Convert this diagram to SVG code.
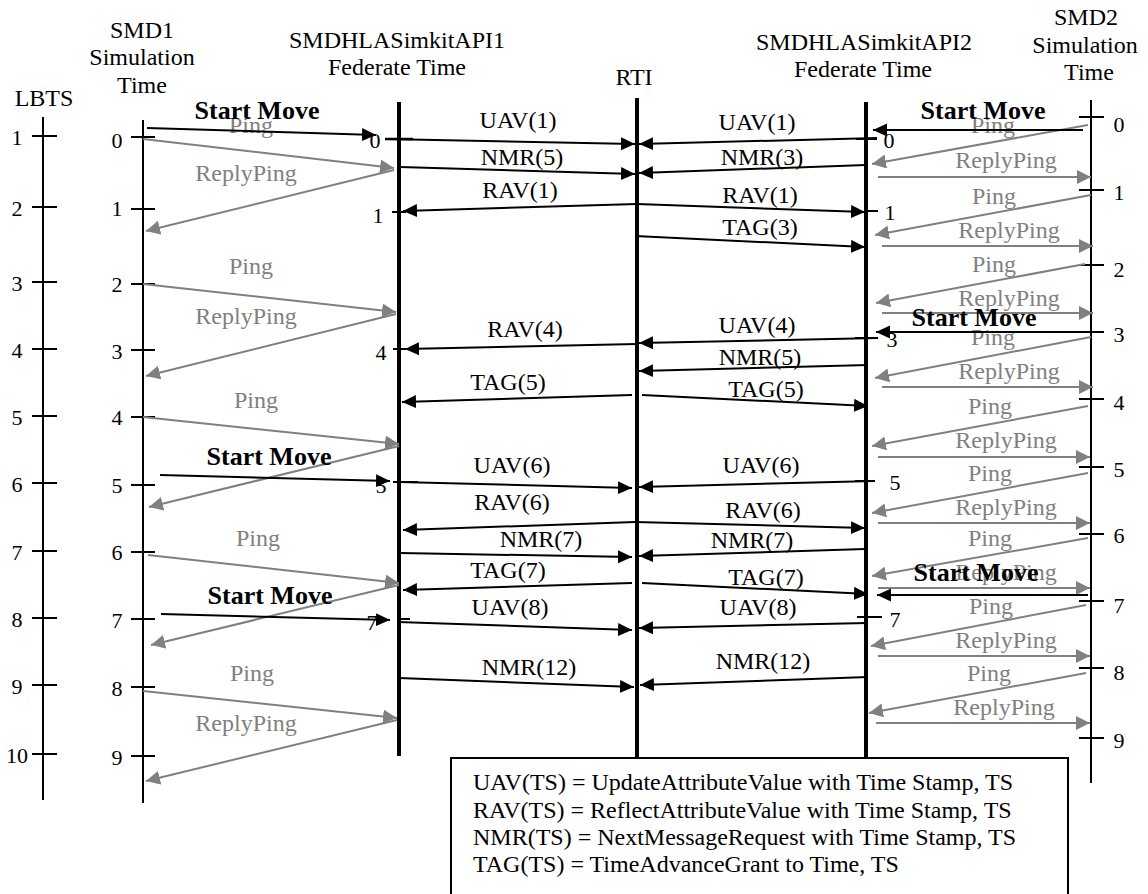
<svg xmlns="http://www.w3.org/2000/svg" width="1148" height="894" viewBox="0 0 1148 894">
<defs>
<marker id="ab" markerUnits="userSpaceOnUse" markerWidth="15" markerHeight="14" refX="14" refY="6.5" orient="auto"><path d="M0,0 L14,6.5 L0,13 z" fill="#000"/></marker>
<marker id="ag" markerUnits="userSpaceOnUse" markerWidth="15" markerHeight="15" refX="14" refY="7" orient="auto"><path d="M0,0 L14,7 L0,14 z" fill="#808080"/></marker>
<style>
.ax{stroke:#000;stroke-width:2;fill:none}
.axb{stroke:#000;stroke-width:4;fill:none}
.tk{stroke:#000;stroke-width:2}
.m{stroke:#000;stroke-width:2;fill:none;marker-end:url(#ab)}
.gm{stroke:#808080;stroke-width:2;fill:none;marker-end:url(#ag)}
text{font-family:"Liberation Serif","Times New Roman",serif;font-size:24px;fill:#000;text-anchor:middle}
.g{fill:#808080}
.b{font-weight:bold;font-size:26px}
.n{font-size:22px}
.l{text-anchor:start}
</style>
</defs>
<rect width="1148" height="894" fill="#fff"/>

<g id="lbts">
<text x="44" y="106">LBTS</text>
<line class="ax" x1="43" y1="117" x2="43" y2="800"/>
<g class="tk">
<line x1="32" y1="136" x2="57" y2="136"/><line x1="32" y1="207" x2="57" y2="207"/><line x1="32" y1="282" x2="57" y2="282"/><line x1="32" y1="349" x2="57" y2="349"/><line x1="32" y1="416" x2="57" y2="416"/><line x1="32" y1="483" x2="57" y2="483"/><line x1="32" y1="551" x2="57" y2="551"/><line x1="32" y1="618" x2="57" y2="618"/><line x1="32" y1="685" x2="57" y2="685"/><line x1="32" y1="754" x2="57" y2="754"/>
</g>
<g class="n">
<text class="n" x="17" y="145">1</text><text class="n" x="17" y="216">2</text><text class="n" x="17" y="291">3</text><text class="n" x="17" y="358">4</text><text class="n" x="17" y="425">5</text><text class="n" x="17" y="492">6</text><text class="n" x="17" y="560">7</text><text class="n" x="17" y="627">8</text><text class="n" x="17" y="694">9</text><text class="n" x="17" y="763">10</text>
</g>
</g>

<g id="smd1">
<text x="142" y="38">SMD1</text><text x="142" y="65">Simulation</text><text x="142" y="93">Time</text>
<line class="ax" x1="143" y1="120" x2="143" y2="803"/>
<g class="tk">
<line x1="131" y1="137" x2="155" y2="137"/><line x1="131" y1="209" x2="155" y2="209"/><line x1="131" y1="284" x2="155" y2="284"/><line x1="131" y1="350" x2="155" y2="350"/><line x1="131" y1="417" x2="155" y2="417"/><line x1="131" y1="485" x2="155" y2="485"/><line x1="131" y1="552" x2="155" y2="552"/><line x1="131" y1="619" x2="155" y2="619"/><line x1="131" y1="687" x2="155" y2="687"/><line x1="131" y1="756" x2="155" y2="756"/>
</g>
<text class="n" x="117" y="148">0</text><text class="n" x="117" y="216">1</text><text class="n" x="117" y="292">2</text><text class="n" x="117" y="359">3</text><text class="n" x="117" y="425">4</text><text class="n" x="117" y="493">5</text><text class="n" x="117" y="560">6</text><text class="n" x="117" y="628">7</text><text class="n" x="117" y="696">8</text><text class="n" x="117" y="765">9</text>
</g>

<g id="api1">
<text x="397" y="48">SMDHLASimkitAPI1</text><text x="397" y="75">Federate Time</text>
<line class="axb" x1="399" y1="102" x2="399" y2="756"/>
<g class="tk">
<line x1="385" y1="139" x2="413" y2="139" stroke-width="2.5"/><line x1="392" y1="212" x2="406" y2="212"/><line x1="393" y1="349" x2="406" y2="349"/><line x1="393" y1="482" x2="418" y2="482"/><line x1="398" y1="619" x2="410" y2="619"/>
</g>
<text class="n" x="375" y="148">0</text><text class="n" x="378" y="223">1</text><text class="n" x="381" y="360">4</text><text class="n" x="381" y="493">5</text><text class="n" x="372" y="630">7</text>
</g>

<g id="rti">
<text x="634" y="85">RTI</text>
<line class="axb" x1="637" y1="98" x2="637" y2="758"/>
</g>

<g id="api2">
<text x="864" y="50">SMDHLASimkitAPI2</text><text x="863" y="77">Federate Time</text>
<line class="axb" x1="866" y1="102" x2="866" y2="758"/>
<g class="tk">
<line x1="856" y1="139" x2="877" y2="139"/><line x1="866" y1="211" x2="878" y2="211"/><line x1="855" y1="338" x2="878" y2="338"/><line x1="855" y1="481" x2="875" y2="481"/><line x1="857" y1="617" x2="882" y2="617"/>
</g>
<text class="n" x="889" y="148">0</text><text class="n" x="890" y="220">1</text><text class="n" x="892" y="347">3</text><text class="n" x="895" y="490">5</text><text class="n" x="895" y="627">7</text>
</g>

<g id="smd2">
<text x="1086" y="25">SMD2</text><text x="1085" y="53">Simulation</text><text x="1089" y="80">Time</text>
<line class="ax" x1="1091" y1="100" x2="1091" y2="783"/>
<g class="tk">
<line x1="1079" y1="117" x2="1104" y2="117"/><line x1="1079" y1="190" x2="1104" y2="190"/><line x1="1079" y1="265" x2="1104" y2="265"/><line x1="1079" y1="332" x2="1104" y2="332"/><line x1="1079" y1="399" x2="1104" y2="399"/><line x1="1079" y1="467" x2="1104" y2="467"/><line x1="1079" y1="534" x2="1104" y2="534"/><line x1="1079" y1="601" x2="1104" y2="601"/><line x1="1079" y1="668" x2="1104" y2="668"/><line x1="1079" y1="738" x2="1104" y2="738"/>
</g>
<text class="n" x="1119" y="132">0</text><text class="n" x="1119" y="200">1</text><text class="n" x="1119" y="277">2</text><text class="n" x="1119" y="342">3</text><text class="n" x="1119" y="410">4</text><text class="n" x="1119" y="477">5</text><text class="n" x="1119" y="543">6</text><text class="n" x="1119" y="613">7</text><text class="n" x="1119" y="680">8</text><text class="n" x="1119" y="748">9</text>
</g>

<g id="connectors">
<g id="ping-left">
<line class="gm" x1="143" y1="139" x2="394" y2="168"/>
<line class="gm" x1="394" y1="170" x2="146" y2="231"/>
<line class="gm" x1="143" y1="284" x2="396" y2="312"/>
<line class="gm" x1="396" y1="314" x2="146" y2="376"/>
<line class="gm" x1="143" y1="417" x2="399" y2="444"/>
<line class="gm" x1="399" y1="446" x2="149" y2="507"/>
<line class="gm" x1="148" y1="555" x2="399" y2="583"/>
<line class="gm" x1="399" y1="585" x2="151" y2="645"/>
<line class="gm" x1="143" y1="691" x2="397" y2="718"/>
<line class="gm" x1="397" y1="720" x2="146" y2="781"/>
<text class="g" x="251" y="133">Ping</text><text class="g" x="246" y="181">ReplyPing</text>
<text class="g" x="251" y="274">Ping</text><text class="g" x="246" y="324">ReplyPing</text>
<text class="g" x="256" y="408">Ping</text>
<text class="g" x="258" y="546">Ping</text>
<text class="g" x="252" y="681">Ping</text><text class="g" x="246" y="731">ReplyPing</text>
</g>
<g id="ping-right">
<line class="gm" x1="1088" y1="125" x2="872" y2="164"/>
<line class="gm" x1="878" y1="177" x2="1091" y2="177"/>
<line class="gm" x1="1091" y1="195" x2="875" y2="235"/>
<line class="gm" x1="882" y1="246" x2="1093" y2="246"/>
<line class="gm" x1="1085" y1="264" x2="876" y2="303"/>
<line class="gm" x1="882" y1="313" x2="1093" y2="313"/>
<line class="gm" x1="1091" y1="337" x2="875" y2="378"/>
<line class="gm" x1="882" y1="387" x2="1093" y2="387"/>
<line class="gm" x1="1088" y1="406" x2="872" y2="446"/>
<line class="gm" x1="878" y1="457" x2="1090" y2="457"/>
<line class="gm" x1="1088" y1="473" x2="872" y2="513"/>
<line class="gm" x1="878" y1="523" x2="1090" y2="523"/>
<line class="gm" x1="1088" y1="538" x2="872" y2="576"/>
<line class="gm" x1="878" y1="588" x2="1090" y2="588"/>
<line class="gm" x1="1086" y1="605" x2="871" y2="646"/>
<line class="gm" x1="878" y1="656" x2="1090" y2="656"/>
<line class="gm" x1="1086" y1="673" x2="869" y2="713"/>
<line class="gm" x1="876" y1="723" x2="1090" y2="723"/>
<text class="g" x="993" y="133">Ping</text><text class="g" x="1006" y="168">ReplyPing</text>
<text class="g" x="994" y="204">Ping</text><text class="g" x="1009" y="238">ReplyPing</text>
<text class="g" x="994" y="272">Ping</text><text class="g" x="1009" y="306">ReplyPing</text>
<text class="g" x="993" y="345">Ping</text><text class="g" x="1009" y="379">ReplyPing</text>
<text class="g" x="990" y="414">Ping</text><text class="g" x="1006" y="448">ReplyPing</text>
<text class="g" x="990" y="481">Ping</text><text class="g" x="1006" y="515">ReplyPing</text>
<text class="g" x="990" y="546">Ping</text><text class="g" x="1006" y="580">ReplyPing</text>
<text class="g" x="991" y="614">Ping</text><text class="g" x="1006" y="648">ReplyPing</text>
<text class="g" x="989" y="681">Ping</text><text class="g" x="1004" y="715">ReplyPing</text>
</g>
<g id="start-move">
<line class="m" x1="147" y1="128" x2="376" y2="135"/>
<line class="m" x1="160" y1="475" x2="390" y2="481"/>
<line class="m" x1="161" y1="614" x2="390" y2="620"/>
<line class="m" x1="1083" y1="130" x2="873" y2="130"/>
<line class="m" x1="1087" y1="332" x2="876" y2="332"/>
<line class="m" x1="1088" y1="595" x2="877" y2="595"/>
<text class="b" x="257" y="119">Start Move</text>
<text class="b" x="269" y="465">Start Move</text>
<text class="b" x="270" y="604">Start Move</text>
<text class="b" x="983" y="119">Start Move</text>
<text class="b" x="974" y="326">Start Move</text>
<text class="b" x="976" y="581">Start Move</text>
</g>
<g id="rti-msgs">
<line class="m" x1="385" y1="139" x2="635" y2="144"/>
<line class="m" x1="877" y1="138" x2="639" y2="144"/>
<line class="m" x1="400" y1="167" x2="635" y2="174"/>
<line class="m" x1="866" y1="165" x2="639" y2="173"/>
<line class="m" x1="637" y1="204" x2="403" y2="211"/>
<line class="m" x1="637" y1="204" x2="865" y2="212"/>
<line class="m" x1="635" y1="236" x2="865" y2="247"/>
<line class="m" x1="878" y1="338" x2="639" y2="343"/>
<line class="m" x1="637" y1="344" x2="405" y2="349"/>
<line class="m" x1="868" y1="365" x2="639" y2="371"/>
<line class="m" x1="632" y1="395" x2="402" y2="402"/>
<line class="m" x1="642" y1="395" x2="868" y2="406"/>
<line class="m" x1="399" y1="482" x2="632" y2="488"/>
<line class="m" x1="875" y1="481" x2="639" y2="487"/>
<line class="m" x1="635" y1="522" x2="403" y2="530"/>
<line class="m" x1="635" y1="522" x2="865" y2="528"/>
<line class="m" x1="400" y1="553" x2="632" y2="557"/>
<line class="m" x1="865" y1="549" x2="639" y2="556"/>
<line class="m" x1="632" y1="583" x2="403" y2="590"/>
<line class="m" x1="642" y1="583" x2="868" y2="594"/>
<line class="m" x1="398" y1="622" x2="632" y2="630"/>
<line class="m" x1="867" y1="623" x2="639" y2="628"/>
<line class="m" x1="399" y1="678" x2="634" y2="687"/>
<line class="m" x1="868" y1="677" x2="640" y2="685"/>
<text x="518" y="128">UAV(1)</text><text x="757" y="130">UAV(1)</text>
<text x="522" y="165">NMR(5)</text><text x="762" y="165">NMR(3)</text>
<text x="520" y="198">RAV(1)</text><text x="760" y="203">RAV(1)</text>
<text x="760" y="235">TAG(3)</text>
<text x="525" y="337">RAV(4)</text><text x="757" y="333">UAV(4)</text>
<text x="760" y="365">NMR(5)</text>
<text x="508" y="390">TAG(5)</text><text x="766" y="397">TAG(5)</text>
<text x="512" y="473">UAV(6)</text><text x="761" y="473">UAV(6)</text>
<text x="512" y="510">RAV(6)</text><text x="763" y="518">RAV(6)</text>
<text x="541" y="547">NMR(7)</text><text x="752" y="548">NMR(7)</text>
<text x="508" y="578">TAG(7)</text><text x="766" y="585">TAG(7)</text>
<text x="510" y="615">UAV(8)</text><text x="758" y="615">UAV(8)</text>
<text x="529" y="675">NMR(12)</text><text x="763" y="669">NMR(12)</text>
</g>
</g>

<g id="legend">
<rect x="451" y="758" width="617" height="145" fill="#fff" stroke="#000" stroke-width="2"/>
<text class="l" x="473" y="790">UAV(TS) = UpdateAttributeValue with Time Stamp, TS</text>
<text class="l" x="473" y="818">RAV(TS) = ReflectAttributeValue with Time Stamp, TS</text>
<text class="l" x="473" y="845">NMR(TS) = NextMessageRequest with Time Stamp, TS</text>
<text class="l" x="473" y="872">TAG(TS) = TimeAdvanceGrant to Time, TS</text>
</g>
</svg>
